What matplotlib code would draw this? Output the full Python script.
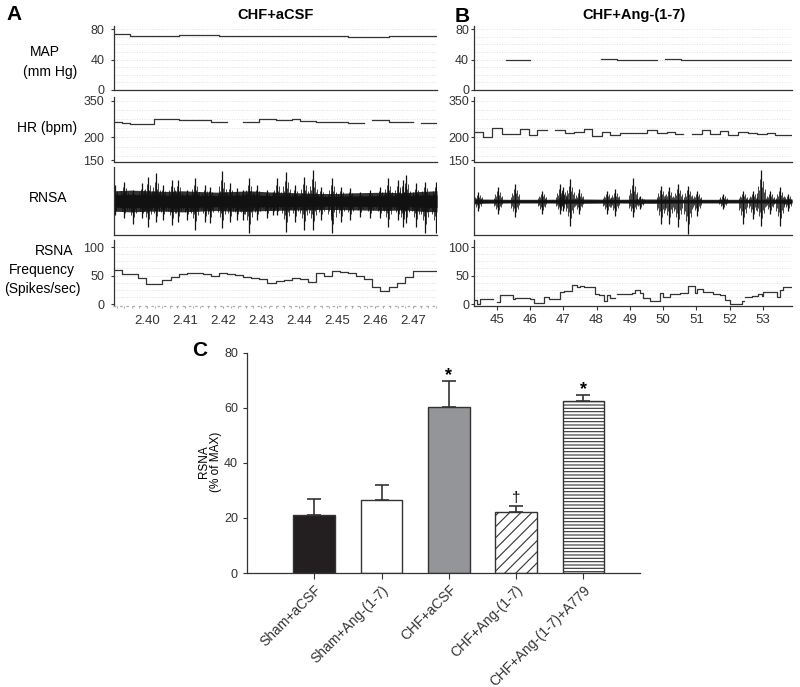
import numpy as np
import matplotlib
matplotlib.use("Agg")
import matplotlib.pyplot as plt
from matplotlib.ticker import MultipleLocator

plt.rcParams.update({
    "font.family": ["Liberation Sans", "DejaVu Sans"],
    "font.size": 9,
    "hatch.linewidth": 0.8,
    "axes.linewidth": 0.9,
    "axes.edgecolor": "#333333",
    "xtick.color": "#333333",
    "ytick.color": "#333333",
})

# ---------------- panel A : CHF+aCSF ----------------
a_window = (2.3913, 2.4763)
a_xticks = [2.40, 2.41, 2.42, 2.43, 2.44, 2.45, 2.46, 2.47]
# step traces, equal bins across the window
a_map = [73, 73, 71.5, 71.5, 71.5, 71.5, 71.5, 71.5, 72.3, 72.3,
         72.3, 72.3, 72.3, 71.5, 71.5, 71.5, 71.5, 71, 71, 71,
         71, 71, 71, 71, 71, 71, 71, 71, 71, 69.5,
         69.5, 69.5, 69.5, 69.5, 71, 71, 71, 71, 71, 71]
a_hr = [264, 258, 257, 257, 257, 274, 275, 275, 270, 270,
        272, 272, 264, 264, np.nan, np.nan, 262, 262, 275, 275,
        270, 270, 274, 268, 268, 262, 262, 262, 262, 259,
        259, np.nan, 270, 270, 264, 264, 264, np.nan, 260, 260]
a_freq = [60, 52, 52, 46, 35, 35, 42, 48, 52, 54,
          55, 53, 50, 54, 53, 51, 48, 46, 44, 37,
          40, 42, 45, 43, 39, 54, 50, 58, 56, 55,
          49, 44, 30, 22, 30, 36, 48, 58, 58, 58]
# nerve recording: background band + burst peaks
a_band_up = [0.30, 0.32, 0.30, 0.28, 0.30, 0.28, 0.26, 0.28, 0.30, 0.27,
             0.25, 0.24, 0.22, 0.22, 0.24, 0.25, 0.26, 0.24, 0.28, 0.30]
a_band_lo = [-0.30, -0.32, -0.30, -0.30, -0.32, -0.30, -0.28, -0.30, -0.30, -0.28,
             -0.27, -0.26, -0.25, -0.25, -0.26, -0.27, -0.28, -0.26, -0.30, -0.32]
a_spk_t = [2.3916, 2.3939, 2.3962, 2.3986, 2.4003, 2.4024, 2.4043, 2.4065, 2.4082, 2.4104,
           2.4126, 2.4153, 2.4166, 2.4197, 2.4218, 2.4236, 2.4253, 2.4269, 2.4289, 2.4315,
           2.4332, 2.4342, 2.4365, 2.4389, 2.4412, 2.4437, 2.4459, 2.4488, 2.4511, 2.4533,
           2.4560, 2.4586, 2.4612, 2.4634, 2.4661, 2.4674, 2.4682, 2.4709, 2.4731, 2.4761]
a_spk_top = [0.47, 0.57, 0.32, 0.52, 0.71, 0.81, 0.47, 0.62, 0.62, 0.32,
             0.69, 0.47, 0.42, 0.88, 0.52, 0.37, 0.32, 0.67, 0.47, 0.32,
             0.27, 0.67, 0.86, 0.47, 0.71, 0.91, 0.42, 0.67, 0.42, 0.37,
             0.27, 0.32, 0.42, 0.69, 0.62, 0.62, 0.76, 0.52, 0.57, 0.57]
a_spk_bot = [-0.41, -0.51, -0.69, -0.51, -0.76, -0.61, -0.56, -0.71, -0.61, -0.56,
             -0.85, -0.61, -0.66, -0.78, -0.61, -0.56, -0.56, -0.95, -0.56, -0.51,
             -0.41, -0.41, -0.90, -0.61, -0.85, -0.85, -0.56, -0.95, -0.61, -0.56,
             -0.46, -0.51, -0.51, -0.76, -0.56, -0.76, -0.66, -0.76, -0.95, -0.95]

# ---------------- panel B : CHF+Ang-(1-7) ----------------
b_window = (44.32, 53.87)
b_xticks = [45, 46, 47, 48, 49, 50, 51, 52, 53]
b_map = [np.nan, np.nan, np.nan, np.nan, 40, 40, 40, np.nan, np.nan, np.nan,
         np.nan, np.nan, np.nan, np.nan, np.nan, np.nan, 40.5, 40.5, 39.5, 39.5,
         40, 40, 40, np.nan, 40.5, 40.5, 39.6, 39.6, 39.6, 39.6,
         39, 39, 39, 40, 40, 40, 40, 40, 39.6, 39.6]
b_hr_edges = [44.35, 44.60, 44.86, 45.16, 45.71, 45.96, 46.21, 46.51, 46.76, 47.06,
              47.31, 47.61, 47.86, 48.16, 48.41, 48.71, 49.01, 49.51, 49.81, 50.11,
              50.36, 50.61, 50.86, 51.16, 51.41, 51.71, 51.96, 52.26, 52.56, 52.81,
              53.11, 53.36, 53.87]
b_hr = [224, 203, 238, 213, 235, 210, 232, np.nan, 231, 217,
        224, 234, 206, 224, 209, 217, 219, 231, 217, 221,
        213, np.nan, 213, 231, 213, 228, 209, 224, 220, 213,
        217, 210]
b_freq_edges = [44.32, 44.41, 44.50, 44.90, 45.02, 45.10, 45.50, 45.56, 46.01, 46.11,
                46.41, 46.56, 46.91, 47.01, 47.26, 47.41, 47.51, 47.61, 47.96, 48.06,
                48.21, 48.31, 48.41, 48.56, 48.61, 49.06, 49.16, 49.31, 49.41, 49.61,
                49.91, 50.01, 50.21, 50.51, 50.76, 50.86, 50.96, 51.01, 51.21, 51.51,
                51.71, 51.86, 52.01, 52.36, 52.43, 52.46, 52.66, 52.86, 52.96, 53.01,
                53.41, 53.51, 53.61, 53.87]
b_freq = [7, 0, 9, np.nan, 4, 15, 9, 10.5, 9, 1.5,
          12, 9, 21, 23, 33, 29, 32, 30, 17, 15,
          6, 15, 10, np.nan, 17, 18.5, 25, 20, 10.5, 4.5,
          18.5, 12.5, 17, 20, 31, 32, 20, 27, 21, 18,
          15, 7.5, 0, 5, np.nan, 12, 13.5, 17, 14, 21.5,
          12, 25, 29]
b_band_up = [0.06, 0.05, 0.05, 0.06, 0.05, 0.06, 0.05, 0.05, 0.05, 0.06]
b_band_lo = [-0.07, -0.06, -0.06, -0.07, -0.06, -0.07, -0.06, -0.06, -0.06, -0.07]
b_spk_t = [44.45, 45.05, 45.56, 46.36, 46.91, 46.99, 47.19, 47.46, 48.31, 48.56,
           49.09, 49.31, 49.93, 50.19, 50.46, 50.76, 51.01, 51.81, 52.39, 52.69,
           52.93, 53.21, 53.51, 53.76]
b_spk_top = [0.26, 0.40, 0.50, 0.30, 0.50, 0.40, 0.65, 0.35, 0.30, 0.35,
             0.68, 0.15, 0.45, 0.40, 0.50, 0.45, 0.30, 0.21, 0.30, 0.30,
             0.91, 0.30, 0.40, 0.21]
b_spk_bot = [-0.29, -0.38, -0.48, -0.38, -0.38, -0.29, -0.73, -0.38, -0.38, -0.43,
             -0.48, -0.24, -0.68, -0.68, -0.77, -0.97, -0.43, -0.24, -0.68, -0.53,
             -0.73, -0.38, -0.73, -0.29]

# ---------------- panel C : group means ----------------
groups = ["Sham+aCSF", "Sham+Ang-(1-7)", "CHF+aCSF", "CHF+Ang-(1-7)", "CHF+Ang-(1-7)+A779"]
rsna = [21.1, 26.4, 60.4, 22.3, 62.5]
rsna_sem = [5.8, 5.6, 9.3, 1.9, 2.1]
sig = ["", "", "*", "\u2020", "*"]

W, H = 800, 687
fig = plt.figure(figsize=(W / 100, H / 100), dpi=100)


def px_axes(x0, y0, x1, y1):
    return fig.add_axes([x0 / W, 1 - y1 / H, (x1 - x0) / W, (y1 - y0) / H])


def trace_ax(x0, x1, y0, y1, window):
    ax = px_axes(x0, y0, x1, y1)
    ax.set_xlim(*window)
    ax.spines[["top", "right"]].set_visible(False)
    ax.set_xticks([])
    ax.patch.set_alpha(0)
    return ax


def hgrid(ax, levels):
    for g in levels:
        ax.axhline(g, color="#d6d6d6", lw=0.6, ls=(0, (1, 2)), zorder=0)


def steps(ax, edges, vals):
    vals = np.asarray(vals, float)
    ax.step(edges, np.append(vals, vals[-1]), where="post", color="#333333", lw=0.9)


def nerve(ax, window, width_px, up, lo, st, top, bot):
    up, lo = np.asarray(up), np.asarray(lo)
    c = np.linspace(window[0], window[1], len(up))
    ax.fill_between(c, up, lo, color="#333333", lw=0)
    ax.fill_between(c, 0.6 * up, 0.6 * lo, color="#111111", lw=0)
    dpx = (window[1] - window[0]) / width_px
    # each burst drawn as an uneven cluster of strokes around the read peak
    offs = [-4, -3, -2, -1, 0, 1, 2, 3, 4]
    top_f = [0.25, 0.5, 0.35, 0.7, 1.0, 0.45, 0.65, 0.3, 0.4]
    bot_f = [0.4, 0.3, 0.6, 0.45, 1.0, 0.7, 0.35, 0.5, 0.25]
    st, top, bot = np.asarray(st), np.asarray(top), np.asarray(bot)
    for k, ft, fb in zip(offs, top_f, bot_f):
        ax.vlines(st + k * dpx, fb * bot, ft * top, color="#111111",
                  lw=0.9 if k == 0 else 0.55)


panels = [
    dict(x=(114, 437), win=a_window, pad=5, mp=a_map, hr=a_hr,
         hr_e=np.linspace(a_window[0], a_window[1], len(a_hr) + 1),
         fr=a_freq, fr_e=np.linspace(a_window[0], a_window[1], len(a_freq) + 1),
         band=(a_band_up, a_band_lo), spk=(a_spk_t, a_spk_top, a_spk_bot), ticks=a_xticks),
    dict(x=(474, 792), win=b_window, pad=1.5, mp=b_map, hr=b_hr, hr_e=b_hr_edges,
         fr=b_freq, fr_e=b_freq_edges,
         band=(b_band_up, b_band_lo), spk=(b_spk_t, b_spk_top, b_spk_bot), ticks=b_xticks),
]

for i, p in enumerate(panels):
    x0, x1 = p["x"]
    # MAP
    ax = trace_ax(x0, x1, 26, 90, p["win"])
    ax.set_ylim(0, 84)
    ax.set_yticks([0, 40, 80])
    hgrid(ax, np.arange(10, 81, 10))
    steps(ax, np.linspace(p["win"][0], p["win"][1], len(p["mp"]) + 1), p["mp"])
    ax.tick_params(axis="y", length=2, pad=p["pad"], labelsize=9)
    # HR (bottom label of the original scale sits just above the axis floor)
    ax = trace_ax(x0, x1, 97, 162, p["win"])
    ax.set_ylim(99.3, 366.4)
    ax.set_yticks([107.5, 200, 350], ["150", "200", "350"])
    hgrid(ax, np.arange(125, 360, 37.5))
    steps(ax, p["hr_e"], p["hr"])
    ax.tick_params(axis="y", length=2, pad=p["pad"], labelsize=9)
    # raw nerve activity
    ax = trace_ax(x0, x1, 167, 235, p["win"])
    ax.set_ylim(-1, 1)
    ax.set_yticks([])
    nerve(ax, p["win"], x1 - x0, *p["band"], *p["spk"])
    # spike frequency
    ax = trace_ax(x0, x1, 240, 306, p["win"])
    ax.set_ylim(-3.5, 112.3)
    ax.set_yticks([0, 50, 100])
    hgrid(ax, np.arange(12.5, 101, 12.5))
    steps(ax, p["fr_e"], p["fr"])
    ax.tick_params(axis="y", length=2, pad=p["pad"], labelsize=9)
    if i == 0:
        ax.set_xticks(p["ticks"], [f"{v:.2f}" for v in p["ticks"]])
        ax.xaxis.set_minor_locator(MultipleLocator(0.002))
        ax.tick_params(axis="x", which="both", length=1.5, pad=5, labelsize=9.5, color="#999999")
        ax.spines["bottom"].set_linestyle((0, (1, 4)))
        ax.spines["bottom"].set_color("#aaaaaa")
    else:
        ax.set_xticks(p["ticks"], [str(v) for v in p["ticks"]])
        ax.tick_params(axis="x", length=3, pad=3, labelsize=9.5)
    ax.set_xlim(*p["win"])

# row labels and titles
fig.text(45 / W, 1 - 52 / H, "MAP", ha="center", va="center", fontsize=10)
fig.text(50 / W, 1 - 72 / H, "(mm Hg)", ha="center", va="center", fontsize=10)
fig.text(47 / W, 1 - 128 / H, "HR (bpm)", ha="center", va="center", fontsize=10)
fig.text(48 / W, 1 - 198 / H, "RNSA", ha="center", va="center", fontsize=10)
fig.text(54 / W, 1 - 251 / H, "RSNA", ha="center", va="center", fontsize=10)
fig.text(42 / W, 1 - 270 / H, "Frequency", ha="center", va="center", fontsize=10)
fig.text(42 / W, 1 - 289 / H, "(Spikes/sec)", ha="center", va="center", fontsize=10)
fig.text(276 / W, 1 - 15 / H, "CHF+aCSF", ha="center", va="center", fontsize=10.5, fontweight="bold")
fig.text(634 / W, 1 - 15 / H, "CHF+Ang-(1-7)", ha="center", va="center", fontsize=10.5, fontweight="bold")
fig.text(14 / W, 1 - 14 / H, "A", ha="center", va="center", fontsize=15, fontweight="bold")
fig.text(462 / W, 1 - 16 / H, "B", ha="center", va="center", fontsize=15, fontweight="bold")
fig.text(200 / W, 1 - 350 / H, "C", ha="center", va="center", fontsize=15, fontweight="bold")

# ---------------- bar chart ----------------
axc = px_axes(247, 353, 640, 573)
xs = np.arange(len(groups))
colors = ["#231f20", "white", "#939598", "white", "white"]
hatches = [None, None, None, "///", "-----"]
bars = axc.bar(xs, rsna, width=0.62, color=colors, edgecolor="#333333", linewidth=1, zorder=2)
for b, h in zip(bars, hatches):
    if h:
        b.set_hatch(h)
axc.errorbar(xs, rsna, yerr=[np.zeros(len(rsna)), rsna_sem], fmt="none", ecolor="#333333",
             elinewidth=1.2, capsize=5, capthick=1.2, zorder=1)
for x, m, s, t in zip(xs, rsna, rsna_sem, sig):
    if t == "*":
        axc.text(x, m + s - 1.0, t, ha="center", va="bottom", fontsize=13, fontweight="bold")
    elif t:
        axc.text(x, m + s + 0.6, t, ha="center", va="bottom", fontsize=11)
axc.set_xlim(-1.0, 4.84)
axc.set_ylim(0, 80)
axc.set_yticks([0, 20, 40, 60, 80])
axc.set_xticks(xs, groups, rotation=45, ha="right", rotation_mode="anchor")
axc.spines[["top", "right"]].set_visible(False)
axc.tick_params(axis="y", length=3, labelsize=9)
axc.tick_params(axis="x", length=4, labelsize=10, pad=3)
axc.set_ylabel("RSNA\n(% of MAX)", fontsize=8.5, linespacing=1.0)
axc.yaxis.set_label_coords(-0.064, 0.505)

fig.savefig("out.png", dpi=100)
